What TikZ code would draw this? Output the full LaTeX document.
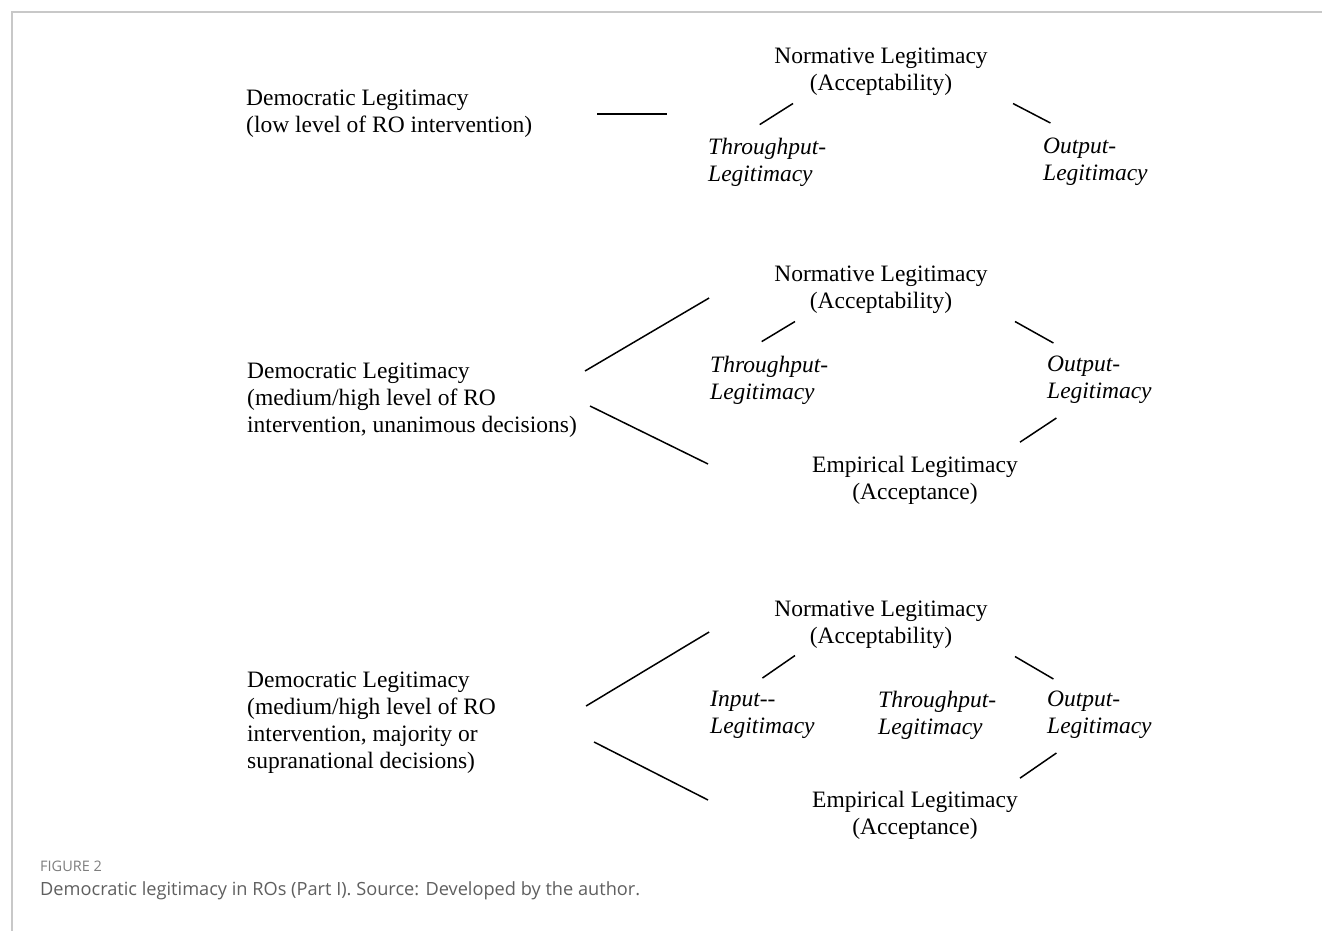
\documentclass[tikz,border=0pt]{standalone}
\usepackage{fontspec}
\setmainfont{Liberation Serif}
\newfontfamily\captionfont{Open Sans}
\usepackage{xcolor}
\definecolor{frame-grey}{RGB}{200,200,200}
\definecolor{caption-grey}{RGB}{95,95,95}
\definecolor{figure-grey}{RGB}{125,125,125}
\tikzset{
    plain-label/.style = {inner sep=0pt, align=left, font=\fontsize{23.5}{27}\selectfont},
    centre-label/.style = {plain-label, align=center},
    slanted-label/.style = {plain-label, font=\fontsize{23.5}{27}\selectfont\itshape},
    link-line/.style = {line width=1.5pt, line cap=butt},
}

\begin{document}
\begin{tikzpicture}[x=1pt, y=-1pt]
\useasboundingbox (0,0) rectangle (1322,931);
\draw[frame-grey, line width=1.4pt] (1322,12) -- (12,12) -- (12,931);

% low level of intervention
\node [plain-label, anchor=west] (dem-a) at (246,114) {Democratic Legitimacy\\(low level of RO intervention)};
\node [centre-label] (norm-a) at (881,71.5) {Normative Legitimacy\\(Acceptability)};
\node [slanted-label, anchor=west] (through-a) at (708,162) {Throughput-\\Legitimacy};
\node [slanted-label, anchor=west] (output-a) at (1043,162) {Output-\\Legitimacy};
\draw [link-line] ([xshift=65pt]dem-a.east) -- ([xshift=135pt]dem-a.east);
\draw [link-line] ([shift={(-7.5,-13)}]through-a.north) -- ([shift={(-88,8)}]norm-a.south);
\draw [link-line] ([shift={(132,8)}]norm-a.south) -- ([shift={(-45,-15)}]output-a.north);

% unanimous decisions
\node [plain-label, anchor=west] (dem-b) at (247,400) {Democratic Legitimacy\\(medium/high level of RO\\intervention, unanimous decisions)};
\node [centre-label] (norm-b) at (881,289.5) {Normative Legitimacy\\(Acceptability)};
\node [slanted-label, anchor=west] (through-b) at (710,380) {Throughput-\\Legitimacy};
\node [slanted-label, anchor=west] (output-b) at (1047,380) {Output-\\Legitimacy};
\node [centre-label] (emp-b) at (915,480.5) {Empirical Legitimacy\\(Acceptance)};
\draw [link-line] ([shift={(8,-29)}]dem-b.east) -- ([shift={(-65,8.5)}]norm-b.west);
\draw [link-line] ([shift={(13,6)}]dem-b.east) -- ([shift={(-104,-16.5)}]emp-b.west);
\draw [link-line] ([shift={(-7.5,-14)}]through-b.north) -- ([shift={(-86,8)}]norm-b.south);
\draw [link-line] ([shift={(134,8)}]norm-b.south) -- ([shift={(-46,-13)}]output-b.north);
\draw [link-line] ([shift={(-43,14)}]output-b.south) -- ([shift={(105,-14)}]emp-b.north);

% majority or supranational decisions
\node [plain-label, anchor=west] (dem-c) at (247,722.5) {Democratic Legitimacy\\(medium/high level of RO\\intervention, majority or\\supranational decisions)};
\node [centre-label] (norm-c) at (881,624.5) {Normative Legitimacy\\(Acceptability)};
\node [slanted-label, anchor=west] (input-c) at (710,715) {Input-{}-\\Legitimacy};
\node [slanted-label, anchor=west] (through-c) at (878,715) {Throughput-\\Legitimacy};
\node [slanted-label, anchor=west] (output-c) at (1047,715) {Output-\\Legitimacy};
\node [centre-label] (emp-c) at (915,815.5) {Empirical Legitimacy\\(Acceptance)};
\draw [link-line] ([shift={(90,-16.5)}]dem-c.east) -- ([shift={(-65,7.5)}]norm-c.west);
\draw [link-line] ([shift={(98,19.5)}]dem-c.east) -- ([shift={(-104,-15.5)}]emp-c.west);
\draw [link-line] ([shift={(0,-13)}]input-c.north) -- ([shift={(-86,7)}]norm-c.south);
\draw [link-line] ([shift={(134,8)}]norm-c.south) -- ([shift={(-46,-12)}]output-c.north);
\draw [link-line] ([shift={(-43,14)}]output-c.south) -- ([shift={(105,-13)}]emp-c.north);

% caption
\node [inner sep=0pt, anchor=west, text=figure-grey, font=\captionfont\fontsize{14.5}{17}\selectfont] (fig-num) at (40,866) {FIGURE 2};
\node [inner sep=0pt, anchor=west, text=caption-grey, font=\captionfont\fontsize{18.2}{22}\selectfont] (fig-text) at (40,891) {Democratic legitimacy in ROs (Part I). Source: Developed by the author.};
\end{tikzpicture}
\end{document}
